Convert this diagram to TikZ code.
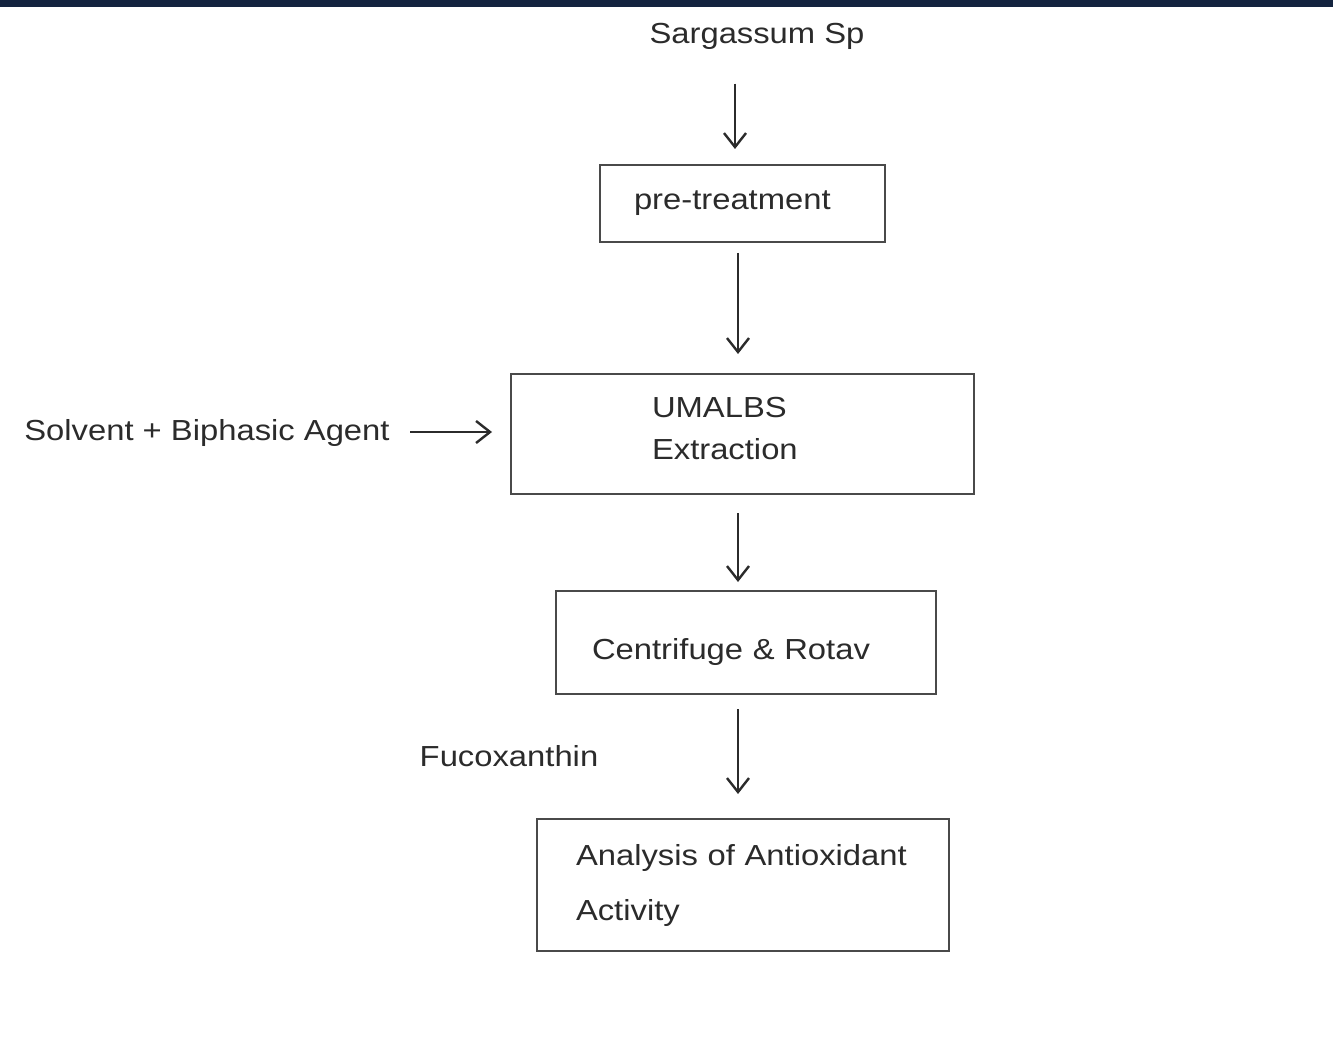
\documentclass[tikz,border=0pt]{standalone}
\usepackage{fontspec}
\usetikzlibrary{arrows.meta}
\newfontfamily\diafont{Liberation Sans}[FakeStretch=1.13]
\definecolor{navybar}{HTML}{14243F}
\definecolor{inkc}{HTML}{2B2B2B}
\definecolor{linec}{HTML}{4A4A4A}
\tikzset{
  txt/.style={inner sep=0pt, text=inkc, font=\diafont\fontsize{14.5}{21.5}\selectfont},
  procbox/.style={draw=linec, line width=1pt, inner xsep=0pt, inner ysep=0pt, align=left, text=inkc, font=\diafont\fontsize{14.5}{21.5}\selectfont},
  arr/.style={draw=inkc, line width=1.2pt, -{Straight Barb[length=7pt,width=11pt,line width=1.2pt]}}
}
\begin{document}
\begin{tikzpicture}[x=0.5pt,y=-0.5pt]
\useasboundingbox (0,0) rectangle (1333,1064);
\fill[white] (0,0) rectangle (1333,1064);
\fill[navybar] (0,0) rectangle (1333,7);

\node[txt] (sarg) at (757,36) {Sargassum Sp};
\node[procbox, text width=142.5pt, minimum height=38.5pt] (pre) at (742.5,203.5) {\hspace*{17pt}pre-treatment};
\node[procbox, text width=231.5pt, minimum height=60pt] (uma) at (742.5,434) {\hspace*{70.5pt}UMALBS\\[-0.5pt]\hspace*{70.5pt}Extraction\\[-15.5pt]\mbox{}};
\node[txt, anchor=east] (solv) at (390,433) {Solvent + Biphasic Agent};
\node[procbox, text width=190pt, minimum height=51.5pt] (cent) at (746,642.5) {\rule{0pt}{7pt}\\[-8.5pt]\hspace*{18pt}Centrifuge \& Rotav};
\node[txt] (fuco) at (509,756) {Fucoxanthin};
\node[procbox, text width=206pt, minimum height=66pt, font=\diafont\fontsize{14.5}{27.5}\selectfont] (anal) at (743,885) {\hspace*{19.5pt}Analysis of Antioxidant\\\hspace*{19.5pt}Activity};

\draw[arr, shorten <=17pt, shorten >=7.5pt] (735,0 |- sarg.south) -- (735,0 |- pre.north);
\draw[arr, shorten <=5pt, shorten >=9.5pt] (738,0 |- pre.south) -- (738,0 |- uma.north);
\draw[arr, shorten <=10pt, shorten >=9pt] (solv.east |- 0,432) -- (uma.west |- 0,432);
\draw[arr, shorten <=9pt, shorten >=4pt] (738,0 |- uma.south) -- (738,0 |- cent.north);
\draw[arr, shorten <=7pt, shorten >=12pt] (738,0 |- cent.south) -- (738,0 |- anal.north);
\end{tikzpicture}
\end{document}
